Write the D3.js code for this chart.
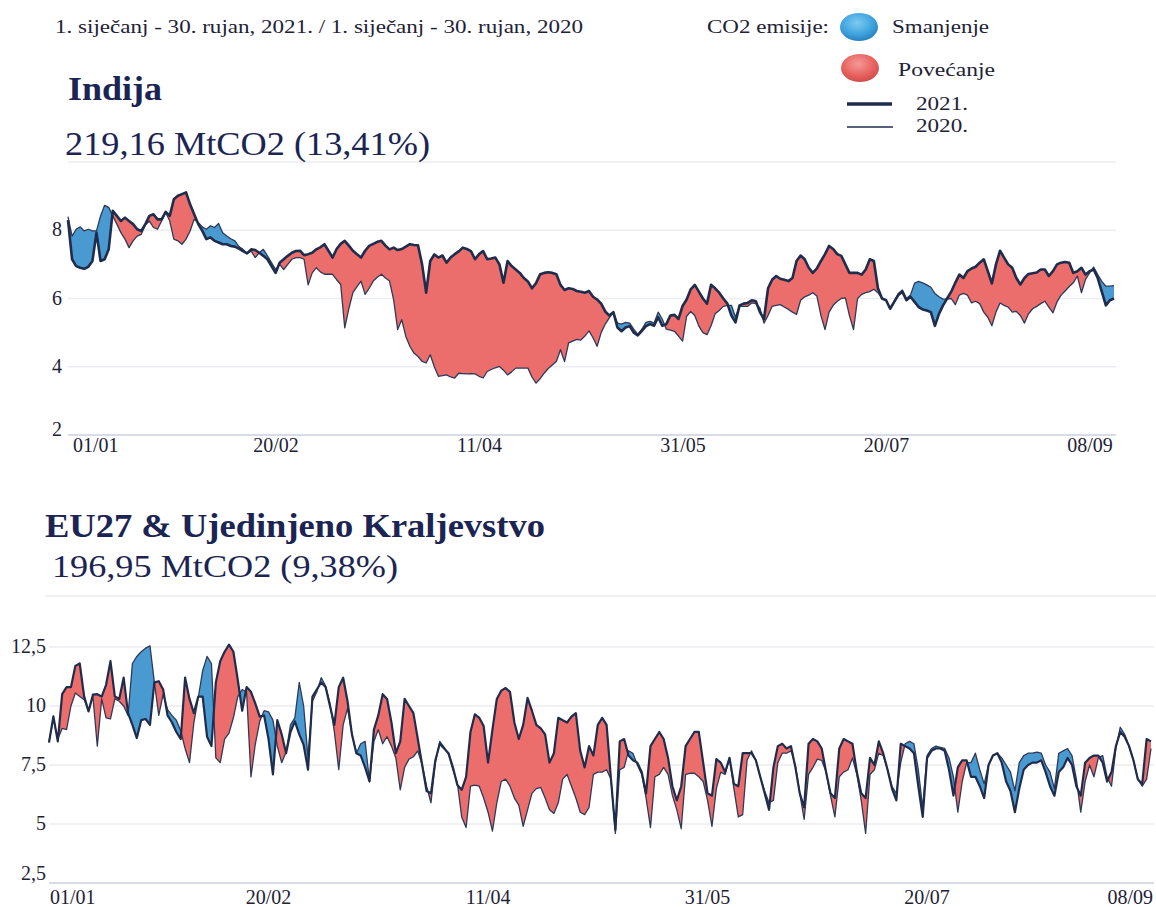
<!DOCTYPE html>
<html><head><meta charset="utf-8">
<script src="https://cdn.jsdelivr.net/npm/d3@7"></script>
<style>body{margin:0;background:#fff}svg{display:block}</style>
</head><body>
<svg id="c" width="1156" height="907"></svg>
<script>
// ---------- DATA ----------
const startDate = "2021-01-01";
const india2021 = [8.3,7.15,6.95,6.9,6.87,6.93,7.1,7.93,7.1,7.15,
7.44,8.57,8.42,8.27,8.37,8.27,8.18,8.03,7.98,8.18,
8.42,8.47,8.32,8.32,8.54,8.42,8.91,9.01,9.06,9.11,
8.76,8.47,8.18,7.98,7.74,7.79,7.69,7.64,7.59,7.59,
7.54,7.52,7.46,7.39,7.32,7.44,7.42,7.34,7.25,7.15,
6.95,6.75,7.05,7.15,7.25,7.34,7.39,7.4,7.27,7.3,
7.34,7.44,7.5,7.59,7.4,7.2,7.45,7.6,7.69,7.55,
7.4,7.3,7.2,7.4,7.54,7.6,7.66,7.69,7.55,7.44,
7.49,7.42,7.45,7.52,7.59,7.57,7.56,7.0,6.17,7.1,
7.29,7.2,7.26,7.05,7.2,7.3,7.38,7.49,7.45,7.39,
7.15,7.3,7.39,7.15,7.17,7.2,7.0,6.46,7.1,6.95,
6.85,6.75,6.6,6.5,6.3,6.45,6.71,6.75,6.77,6.75,
6.71,6.4,6.25,6.3,6.28,6.22,6.2,6.17,6.22,6.05,
5.97,5.85,5.62,5.5,5.6,5.15,5.04,5.15,5.19,5.0,
4.92,5.05,5.19,5.25,5.2,5.45,5.2,5.25,5.5,5.52,
5.4,5.78,5.97,6.27,6.4,6.2,6.0,5.85,6.4,6.3,
6.17,6.0,5.85,5.5,5.3,5.8,5.85,5.87,5.95,5.92,
5.6,5.4,6.3,6.55,6.66,6.58,6.55,6.51,6.6,7.1,
7.26,7.15,6.9,6.75,6.88,7.1,7.3,7.54,7.45,7.3,
7.25,7.0,6.75,6.75,6.75,6.7,6.85,7.15,7.1,6.3,
6.0,5.95,5.7,5.9,6.1,6.2,5.95,6.05,5.9,5.75,
5.68,5.65,5.6,5.2,5.55,5.8,6.0,6.2,6.46,6.7,
6.6,6.8,6.88,6.93,7.05,7.15,6.8,6.44,7.0,7.4,
7.2,7.0,6.9,6.6,6.41,6.6,6.72,6.74,6.76,6.85,
6.85,6.66,6.8,7.0,7.05,7.07,7.05,6.75,6.8,6.9,
6.7,6.8,6.85,6.6,6.2,5.8,5.95,6.0];
const india2020 = [8.4,7.83,8.03,8.1,7.98,8.03,7.98,7.98,8.42,8.73,
8.67,8.42,8.18,7.93,7.74,7.49,7.69,7.83,7.88,8.15,
8.27,8.08,8.03,8.27,8.52,8.27,7.74,7.69,7.59,7.74,
7.98,8.32,8.23,8.1,8.03,8.13,8.08,8.2,7.93,7.83,
7.75,7.69,7.52,7.44,7.32,7.39,7.2,7.34,7.44,7.25,
7.05,6.85,7.0,6.85,7.0,7.15,7.2,7.2,7.15,6.4,
6.75,6.9,6.78,6.71,6.71,6.71,6.55,6.41,5.14,5.7,
6.17,6.35,6.51,6.12,6.3,6.51,6.62,6.71,6.6,6.51,
5.97,5.09,5.38,4.89,4.6,4.4,4.3,4.16,4.11,4.35,
4.0,3.72,3.74,3.76,3.7,3.67,3.81,3.8,3.79,3.8,
3.79,3.72,3.67,3.86,3.92,3.97,4.01,3.9,3.76,3.85,
3.96,3.96,3.96,3.96,3.7,3.52,3.65,3.81,3.95,4.05,
4.16,4.5,4.15,4.7,4.75,4.8,4.78,4.9,5.05,4.85,
4.6,5.0,5.25,5.43,5.6,5.28,5.25,5.3,5.28,5.1,
4.95,5.1,5.3,5.33,5.28,5.6,5.4,5.1,5.07,5.04,
4.9,4.75,5.48,5.62,5.5,5.19,5.0,4.94,5.2,5.55,
5.65,5.77,5.8,5.8,5.45,5.77,5.77,5.77,5.87,5.85,
5.72,5.28,5.5,5.77,5.8,5.82,5.75,5.68,5.6,5.53,
5.95,6.05,6.1,6.17,6.07,5.5,5.09,5.6,5.8,5.92,
6.0,6.02,5.5,5.09,6.0,6.12,6.17,6.2,6.27,6.17,
6.0,5.95,5.72,5.92,6.15,6.25,6.0,6.1,6.45,6.5,
6.46,6.4,6.33,6.15,6.05,5.98,5.98,6.0,5.82,6.1,
6.15,6.1,5.87,5.92,5.85,5.6,5.45,5.2,5.6,5.87,
5.8,5.75,5.6,5.62,5.5,5.28,5.55,5.7,5.77,5.85,
5.92,5.75,5.58,5.9,6.1,6.22,6.35,6.46,6.66,6.17,
6.56,6.75,6.92,6.7,6.5,6.36,6.36,6.38];
const eu2021 = [8.45,9.56,8.5,10.5,10.8,10.8,11.7,11.8,10.41,9.77,
10.48,10.5,10.4,10.9,11.9,10.4,10.3,11.2,9.7,9.2,
8.64,9.4,9.45,9.2,11.0,11.05,10.7,9.6,9.3,8.9,
8.6,11.2,10.3,9.7,10.4,10.4,8.7,8.3,11.0,11.9,
12.3,12.6,12.3,11.1,9.8,10.8,10.6,10.1,9.55,9.6,
8.6,7.1,9.4,8.8,8.0,8.9,9.35,8.8,8.35,7.3,
10.4,10.7,11.0,10.8,10.0,9.2,10.8,11.2,10.2,8.8,
8.0,7.9,7.4,6.8,9.0,9.6,10.5,10.3,9.3,8.0,
8.5,10.3,10.0,9.7,8.6,7.5,6.4,6.3,7.7,8.4,
8.2,8.0,7.4,6.65,6.45,7.0,8.9,9.65,9.5,9.15,
7.6,9.0,10.3,10.65,10.76,10.6,9.3,8.6,9.2,10.34,
9.8,9.2,9.05,8.8,7.6,8.0,9.5,9.4,9.3,9.55,
9.7,8.1,7.4,8.3,7.9,9.2,9.5,9.2,6.9,4.75,
8.5,8.6,7.9,7.7,7.6,7.2,6.3,8.3,8.6,8.9,
8.6,7.8,6.6,6.0,6.6,8.3,8.6,8.9,8.9,7.6,
6.3,6.2,7.75,7.6,7.2,7.8,6.7,6.6,8.0,8.0,
8.0,7.7,7.0,6.3,5.6,7.4,8.3,8.4,8.2,8.3,
7.4,6.3,5.7,8.4,8.6,8.5,8.2,7.2,6.3,6.1,
8.2,8.6,8.5,8.4,7.2,6.3,6.1,7.8,7.5,8.5,
8.0,7.3,6.5,6.0,8.4,8.3,8.2,8.0,6.6,5.3,
7.8,8.1,8.2,8.2,8.1,7.3,6.2,7.4,7.7,7.7,
7.0,7.0,6.6,6.1,7.5,7.9,8.0,7.6,6.8,6.4,
5.5,6.5,7.3,7.5,7.6,7.6,7.7,7.2,6.6,6.2,
7.2,7.4,7.8,7.5,6.6,6.2,7.6,7.8,7.9,7.9,
7.6,6.8,7.2,8.3,8.9,8.7,8.3,7.7,6.9,6.7,
8.6,8.5];
const eu2020 = [8.5,9.45,8.6,9.05,9.0,10.0,10.55,10.4,10.27,9.8,
10.4,8.3,10.3,9.5,9.45,10.3,10.2,10.0,9.6,11.8,
12.1,12.3,12.45,12.55,11.0,9.6,10.5,9.85,9.6,9.4,
8.95,8.2,7.6,9.3,10.35,11.5,12.1,11.8,7.8,7.6,
8.6,8.85,9.5,10.4,10.7,10.6,7.0,8.4,9.35,9.8,
9.75,9.4,8.3,7.6,8.05,9.2,9.5,11.0,10.0,7.8,
10.2,10.6,11.2,10.85,10.1,8.9,7.3,9.2,9.9,8.8,
8.0,8.4,8.5,6.8,8.5,9.0,8.4,8.7,8.3,7.8,
6.45,7.4,7.75,7.85,8.1,7.5,6.6,5.9,7.6,8.5,
8.25,7.95,7.3,6.75,5.3,4.85,6.6,6.65,6.6,6.1,
5.5,4.7,5.9,6.8,6.9,6.6,6.1,5.8,4.9,5.6,
6.3,6.5,6.55,6.1,5.6,5.45,5.9,6.9,7.1,6.6,
6.1,5.5,5.4,5.7,7.1,7.2,7.2,7.3,6.9,4.6,
7.3,7.4,8.1,8.0,7.5,7.1,6.1,4.85,7.0,7.1,
7.4,7.1,6.2,5.6,4.8,7.1,7.15,7.15,7.0,6.8,
6.0,4.9,6.5,7.2,7.1,7.8,6.5,5.3,5.4,7.7,
8.1,7.7,7.0,6.4,5.9,6.0,7.6,8.0,8.0,8.1,
7.5,6.3,5.2,7.1,7.4,7.75,7.7,7.2,6.2,5.3,
7.0,7.2,7.3,7.8,7.1,6.0,4.6,7.1,7.3,8.0,
7.9,7.3,6.6,6.3,7.6,8.4,8.5,8.4,7.3,5.7,
7.9,8.2,8.3,8.25,8.2,7.8,7.0,5.5,6.8,7.6,
7.6,8.0,7.3,6.7,7.5,7.9,8.0,7.8,7.5,7.2,
6.4,7.6,7.9,8.0,8.0,8.05,8.0,7.5,7.2,6.5,
8.0,8.1,8.2,7.9,6.9,5.5,6.8,7.5,7.0,7.8,
7.9,7.0,6.6,8.2,9.1,8.8,8.3,7.7,6.9,6.6,
6.9,8.2];
const tickDates = ["2021-01-01","2021-02-20","2021-04-11","2021-05-31","2021-07-20","2021-09-08"];
const tickLabels = ["01/01","20/02","11/04","31/05","20/07","08/09"];
const indiaGrid = [2,4,6,8,10];
const indiaYLabels = [[2,"2"],[4,"4"],[6,"6"],[8,"8"]];
const euGrid = [2.5,5,7.5,10,12.5];
const euYLabels = [[2.5,"2,5"],[5,"5"],[7.5,"7,5"],[10,"10"],[12.5,"12,5"]];

// ---------- STYLE ----------
const RED = "#EB6E6D", BLUE = "#4A9AD2", LINE = "#1F2C4C", NAVY = "#1B2452";
const SERIF = "'Liberation Serif','Times New Roman',serif";
const svg = d3.select("#c");
const parse = d3.utcParse("%Y-%m-%d");
const t0 = parse(startDate);

function panel(cfg) {
  const g = svg.append("g");
  const n = cfg.a.length;
  const data = d3.range(n).map(i => ({d: d3.utcDay.offset(t0, i), a: cfg.a[i], b: cfg.b[i]}));
  const x = d3.scaleUtc().domain([data[0].d, data[n-1].d]).range(cfg.xr);
  const y = d3.scaleLinear().domain(cfg.yd).range(cfg.yr);
  // grid
  g.selectAll("line.grid").data(cfg.grid).join("line")
    .attr("x1", cfg.gx[0]).attr("x2", cfg.gx[1])
    .attr("y1", d => y(d)).attr("y2", d => y(d))
    .attr("stroke", (d,i) => i === 0 ? "#D8DBE8" : "#ECEDF2")
    .attr("stroke-width", (d,i) => i === 0 ? 2 : 1.5);
  // y labels
  g.selectAll("text.yl").data(cfg.ylabels).join("text")
    .attr("x", cfg.ylx).attr("y", (d,i) => y(d[0]) + (i === 0 ? cfg.firstDy : -1))
    .attr("dy", "0.35em").attr("text-anchor", "end")
    .attr("font-family", SERIF).attr("font-size", 20).attr("fill", "#1E2236")
    .text(d => d[1]);
  // x labels
  const ticks = tickDates.map(parse);
  g.selectAll("text.xl").data(ticks).join("text")
    .attr("x", (d,i) => {
      if (i === 0) return x(d) + cfg.firstDx;
      if (i === ticks.length-1 && cfg.lastEnd) return cfg.lastEnd;
      return x(d) + cfg.labelDx;
    })
    .attr("y", cfg.xly)
    .attr("text-anchor", (d,i) => i === 0 ? "start" : (i === ticks.length-1 && cfg.lastEnd ? "end" : "middle"))
    .attr("font-family", SERIF).attr("font-size", 20).attr("fill", "#1E2236")
    .text((d,i) => tickLabels[i]);
  // difference areas
  const topY = cfg.yr[1] - 60, botY = cfg.yr[0] + 20;
  const defs = g.append("defs");
  defs.append("clipPath").attr("id", cfg.id + "A").append("path").datum(data)
    .attr("d", d3.area().x(d => x(d.d)).y0(topY).y1(d => y(d.b)));
  defs.append("clipPath").attr("id", cfg.id + "B").append("path").datum(data)
    .attr("d", d3.area().x(d => x(d.d)).y0(botY).y1(d => y(d.b)));
  g.append("path").datum(data).attr("clip-path", `url(#${cfg.id}A)`).attr("fill", RED)
    .attr("d", d3.area().x(d => x(d.d)).y0(botY).y1(d => y(d.a)));
  g.append("path").datum(data).attr("clip-path", `url(#${cfg.id}B)`).attr("fill", BLUE)
    .attr("d", d3.area().x(d => x(d.d)).y0(topY).y1(d => y(d.a)));
  // lines
  g.append("path").datum(data).attr("fill", "none").attr("stroke", "#2E3A58").attr("stroke-width", 1.3)
    .attr("stroke-linejoin", "round")
    .attr("d", d3.line().x(d => x(d.d)).y(d => y(d.b)));
  g.append("path").datum(data).attr("fill", "none").attr("stroke", LINE).attr("stroke-width", cfg.lw)
    .attr("stroke-linejoin", "round")
    .attr("d", d3.line().x(d => x(d.d)).y(d => y(d.a)));
}

panel({id: "in", a: india2021, b: india2020, xr: [68, 1114], yd: [2, 10], yr: [435, 162],
  gx: [68, 1116], grid: indiaGrid, ylabels: indiaYLabels, ylx: 62, firstDy: -6,
  xly: 452, firstDx: 5, labelDx: 4.5, lastEnd: null, lw: 2.6});
panel({id: "eu", a: eu2021, b: eu2020, xr: [49, 1151], yd: [2.5, 12.5], yr: [883, 647],
  gx: [49, 1154], grid: euGrid, ylabels: euYLabels, ylx: 46, firstDy: -10,
  xly: 904, firstDx: 1, labelDx: 0, lastEnd: 1153, lw: 2.2});

// separator line under EU subtitle
svg.append("line").attr("x1", 45).attr("x2", 1156).attr("y1", 596).attr("y2", 596)
  .attr("stroke", "#ECEDF2").attr("stroke-width", 1.5);

// ---------- TEXTS ----------
function txt(s, x, y, size, len, opts = {}) {
  const t = svg.append("text").attr("x", x).attr("y", y)
    .attr("font-family", SERIF).attr("font-size", size)
    .attr("fill", opts.fill || "#1E2236").attr("font-weight", opts.bold ? "bold" : "normal")
    .text(s);
  if (len) t.attr("textLength", len).attr("lengthAdjust", "spacingAndGlyphs");
  return t;
}
txt("1. siječanj - 30. rujan, 2021. / 1. siječanj - 30. rujan, 2020", 55, 33, 19, 528);
txt("Indija", 68, 100, 34, 94, {bold: true, fill: NAVY});
txt("219,16 MtCO2 (13,41%)", 65, 155, 33, 365, {fill: NAVY});
txt("EU27 & Ujedinjeno Kraljevstvo", 45, 537, 34, 500, {bold: true, fill: NAVY});
txt("196,95 MtCO2 (9,38%)", 52, 577, 32, 346, {fill: NAVY});

// legend
txt("CO2 emisije:", 707, 33, 19, 122);
txt("Smanjenje", 892, 33, 19, 97);
txt("Povećanje", 898, 76, 19, 97);
txt("2021.", 916, 110, 18, 52);
txt("2020.", 916, 132, 18, 52);
const defs = svg.append("defs");
function grad(id, c1, c2, c3) {
  const r = defs.append("radialGradient").attr("id", id).attr("cx", "45%").attr("cy", "35%").attr("r", "70%");
  r.append("stop").attr("offset", "0%").attr("stop-color", c1);
  r.append("stop").attr("offset", "60%").attr("stop-color", c2);
  r.append("stop").attr("offset", "100%").attr("stop-color", c3);
}
grad("gb", "#7CCBF2", "#3FA3DE", "#2479B8");
grad("gr", "#F59A98", "#E8625F", "#C94A48");
svg.append("ellipse").attr("cx", 859).attr("cy", 27).attr("rx", 19).attr("ry", 14).attr("fill", "url(#gb)");
svg.append("ellipse").attr("cx", 860).attr("cy", 68).attr("rx", 19).attr("ry", 14).attr("fill", "url(#gr)");
svg.append("line").attr("x1", 847).attr("x2", 892).attr("y1", 104).attr("y2", 104).attr("stroke", LINE).attr("stroke-width", 3.5);
svg.append("line").attr("x1", 847).attr("x2", 893).attr("y1", 127).attr("y2", 127).attr("stroke", LINE).attr("stroke-width", 1.3);
</script>
</body></html>
